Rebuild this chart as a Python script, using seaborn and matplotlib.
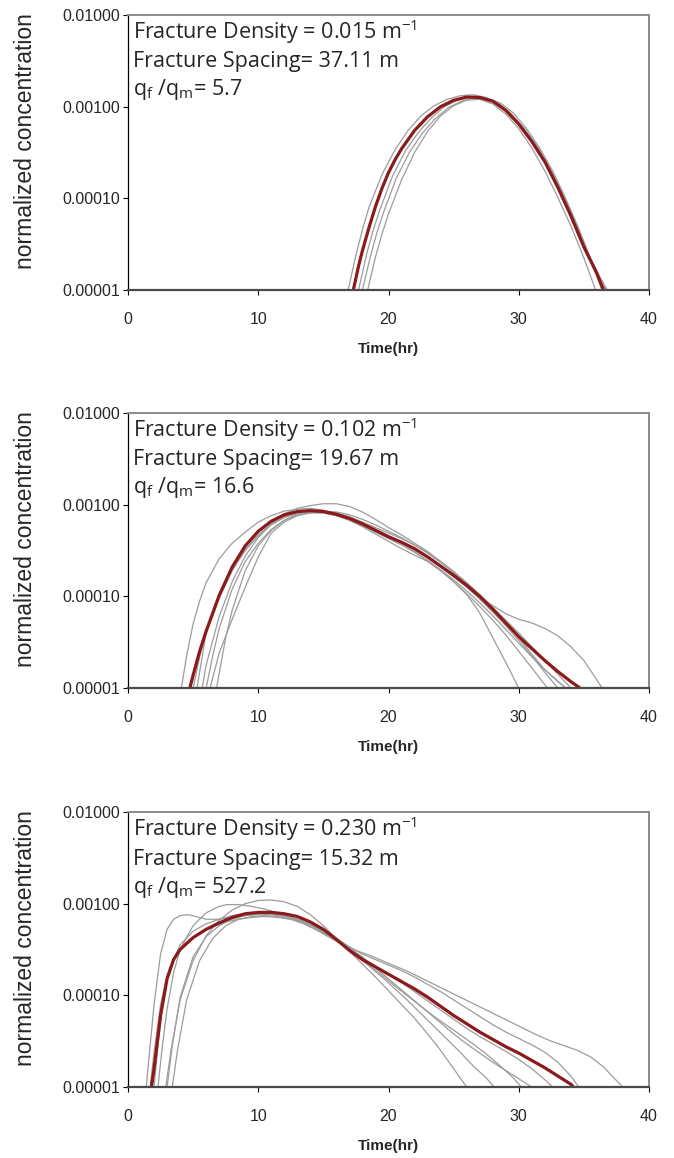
import numpy as np
import matplotlib
matplotlib.use("Agg")
import matplotlib.pyplot as plt
from matplotlib.ticker import FixedLocator, FuncFormatter, NullLocator
import seaborn as sns

sns.set_style("white")
plt.rcParams["font.family"] = ["Liberation Sans", "DejaVu Sans"]
plt.rcParams["mathtext.fontset"] = "custom"
plt.rcParams["mathtext.rm"] = "Open Sans"
plt.rcParams["mathtext.it"] = "Open Sans:italic"
plt.rcParams["mathtext.bf"] = "Open Sans:bold"

# ---------------------------------------------------------------------------
# Breakthrough curves: time (hr) and log10 of normalized concentration
# ---------------------------------------------------------------------------

# Panel 1 -- fracture density 0.015 m^-1
p1_mean_t = [17.3, 17.7, 18, 18.5, 19, 19.5, 20, 20.5, 21, 22, 23, 24, 25, 26, 27, 28, 29, 30, 31, 32,
             33, 34, 35, 36, 36.5]
p1_mean_logc = [-5.0, -4.74, -4.57, -4.32, -4.09, -3.89, -3.72, -3.58, -3.46, -3.26, -3.11, -3.00,
                -2.93, -2.895, -2.90, -2.94, -3.04, -3.19, -3.38, -3.60, -3.88, -4.19, -4.53, -4.82,
                -5.0]
p1_runs_t = [
    [16.9, 17.5, 18, 18.5, 19.5, 20.5, 21.5, 22.5, 23.5, 24.5, 25.5, 26.5, 27.5, 28.5, 29.5, 30.5,
     31.5, 32.5, 33.5, 34.5, 35.5, 36.2, 36.8],
    [17.7, 18.3, 18.8, 19.3, 20.3, 21.3, 22.3, 23.3, 24.3, 25.3, 26.3, 27.3, 28.3, 29.3, 30.3, 31.3,
     32.3, 33.3, 34.3, 35.3, 36.3, 36.7],
    [18.0, 18.6, 19.1, 19.6, 20.6, 21.6, 22.6, 23.6, 24.6, 25.6, 26.6, 27.6, 28.6, 29.6, 30.6, 31.6,
     32.6, 33.6, 34.6, 35.6, 36.4],
    [18.4, 19, 19.5, 20, 21, 22, 23, 24, 25, 26, 27, 28, 29, 30, 31, 32, 33, 34, 35, 35.9],
]
p1_runs_logc = [
    [-5.0, -4.62, -4.34, -4.10, -3.74, -3.47, -3.26, -3.10, -2.99, -2.92, -2.88, -2.87, -2.90, -2.97,
     -3.09, -3.25, -3.45, -3.70, -3.98, -4.30, -4.65, -4.85, -5.0],
    [-5.0, -4.62, -4.36, -4.14, -3.76, -3.48, -3.28, -3.12, -3.00, -2.93, -2.89, -2.90, -2.95, -3.06,
     -3.22, -3.42, -3.66, -3.95, -4.26, -4.60, -4.90, -5.0],
    [-5.0, -4.64, -4.38, -4.16, -3.78, -3.50, -3.29, -3.13, -3.01, -2.94, -2.90, -2.91, -2.96, -3.07,
     -3.24, -3.45, -3.70, -4.00, -4.33, -4.70, -5.0],
    [-5.0, -4.64, -4.39, -4.17, -3.80, -3.50, -3.27, -3.10, -2.99, -2.93, -2.92, -2.97, -3.08, -3.24,
     -3.45, -3.70, -3.99, -4.30, -4.65, -5.0],
]

# Panel 2 -- fracture density 0.102 m^-1
p2_mean_t = [4.75, 5, 5.5, 6, 7, 8, 9, 10, 11, 12, 13, 14, 15, 16, 17, 18, 19, 20, 21, 22, 23, 24, 25,
             26, 27, 28, 29, 30, 31, 32, 33, 34, 34.7]
p2_mean_logc = [-5.0, -4.86, -4.60, -4.38, -3.99, -3.68, -3.45, -3.29, -3.18, -3.11, -3.075, -3.065,
                -3.075, -3.105, -3.15, -3.21, -3.28, -3.35, -3.41, -3.48, -3.57, -3.67, -3.77, -3.88,
                -4.00, -4.14, -4.29, -4.44, -4.57, -4.70, -4.82, -4.93, -5.0]
p2_runs_t = [
    [4.1, 4.5, 5, 5.5, 6, 7, 8, 9, 10, 11, 12, 13, 14, 15, 16, 17, 18, 19, 20, 21, 22, 23, 24, 25, 26,
     27, 28, 29, 30, 31, 32, 33.0],
    [5.7, 6, 7, 8, 9, 10, 11, 12, 13, 14, 15, 16, 17, 18, 19, 20, 21, 22, 23, 24, 25, 26, 27, 28, 29,
     30, 31, 32, 33.6],
    [6.0, 6.5, 7, 8, 9, 10, 11, 12, 13, 14, 15, 16, 17, 18, 19, 20, 21, 22, 23, 24, 25, 26, 27, 28, 29,
     30.0],
    [6.3, 7, 8, 9, 10, 11, 12, 13, 14, 15, 16, 17, 18, 19, 20, 21, 22, 23, 24, 25, 26, 27, 28, 29, 30,
     31, 32.2],
    [5.3, 6, 7, 8, 9, 10, 11, 12, 13, 14, 15, 16, 17, 18, 19, 20, 21, 22, 23, 24, 25, 26, 27, 28, 29,
     30, 31, 32, 33, 34, 35, 35.8, 36.4],
    [5.0, 5.5, 6, 7, 8, 9, 10, 11, 12, 13, 14, 15, 16, 17, 18, 19, 20, 21, 22, 23, 24, 25, 26, 27, 28,
     29, 30, 31, 32, 33, 33.6],
    [6.8, 7.5, 8, 9, 10, 11, 12, 13, 14, 15, 16, 17, 18, 19, 20, 21, 22, 23, 24, 25, 26, 27, 28, 29,
     30, 31, 32, 33, 34.0],
]
p2_runs_logc = [
    [-5.0, -4.65, -4.30, -4.05, -3.85, -3.59, -3.42, -3.30, -3.19, -3.12, -3.07, -3.05, -3.04, -3.06,
     -3.10, -3.15, -3.21, -3.27, -3.34, -3.41, -3.49, -3.58, -3.68, -3.79, -3.90, -4.03, -4.17, -4.32,
     -4.48, -4.65, -4.83, -5.0],
    [-5.0, -4.75, -4.22, -3.84, -3.56, -3.36, -3.21, -3.10, -3.04, -3.01, -2.99, -2.99, -3.02, -3.08,
     -3.16, -3.25, -3.33, -3.42, -3.51, -3.62, -3.73, -3.85, -3.98, -4.12, -4.28, -4.45, -4.63, -4.80,
     -5.0],
    [-5.0, -4.65, -4.35, -3.92, -3.62, -3.42, -3.27, -3.17, -3.11, -3.09, -3.09, -3.12, -3.17, -3.24,
     -3.32, -3.40, -3.48, -3.55, -3.62, -3.72, -3.84, -3.98, -4.18, -4.45, -4.72, -5.0],
    [-5.0, -4.62, -4.25, -3.90, -3.57, -3.31, -3.19, -3.12, -3.09, -3.08, -3.10, -3.14, -3.20, -3.27,
     -3.34, -3.42, -3.51, -3.61, -3.72, -3.84, -3.97, -4.11, -4.26, -4.42, -4.60, -4.78, -5.0],
    [-5.0, -4.40, -3.98, -3.70, -3.49, -3.33, -3.21, -3.13, -3.09, -3.07, -3.07, -3.09, -3.13, -3.19,
     -3.25, -3.31, -3.37, -3.44, -3.52, -3.62, -3.73, -3.86, -4.00, -4.10, -4.19, -4.25, -4.29, -4.35,
     -4.43, -4.55, -4.70, -4.87, -5.0],
    [-5.0, -4.66, -4.40, -4.02, -3.72, -3.50, -3.34, -3.22, -3.14, -3.10, -3.08, -3.09, -3.12, -3.17,
     -3.23, -3.30, -3.37, -3.44, -3.52, -3.61, -3.71, -3.82, -3.94, -4.07, -4.21, -4.36, -4.51, -4.66,
     -4.80, -4.93, -5.0],
    [-5.0, -4.45, -4.15, -3.72, -3.45, -3.28, -3.17, -3.11, -3.08, -3.07, -3.08, -3.11, -3.16, -3.22,
     -3.29, -3.36, -3.44, -3.53, -3.63, -3.74, -3.86, -3.99, -4.12, -4.26, -4.40, -4.55, -4.70, -4.85,
     -5.0],
]

# Panel 3 -- fracture density 0.230 m^-1
p3_mean_t = [1.8, 2.0, 2.5, 3.0, 3.5, 4, 5, 6, 7, 8, 9, 10, 11, 12, 13, 14, 15, 16, 17, 18, 19, 20, 21,
             22, 23, 24, 25, 26, 27, 28, 29, 30, 31, 32, 33, 34, 34.2]
p3_mean_logc = [-5.0, -4.80, -4.22, -3.82, -3.61, -3.50, -3.37, -3.28, -3.21, -3.15, -3.11, -3.095,
                -3.095, -3.11, -3.14, -3.20, -3.28, -3.39, -3.51, -3.61, -3.69, -3.77, -3.85, -3.93,
                -4.02, -4.12, -4.22, -4.31, -4.40, -4.48, -4.56, -4.63, -4.71, -4.79, -4.88, -4.97, -5.0]
p3_runs_t = [
    [1.4, 1.7, 2, 2.5, 3, 3.5, 4, 4.6, 5.2, 6, 7, 8, 9, 10, 11, 12, 13, 14, 15, 16, 17, 18, 19, 20, 21,
     22, 23, 24, 25, 26, 27, 28, 29, 30, 31],
    [2.9, 3.3, 4, 5, 6, 7, 8, 9, 10, 11, 12, 13, 14, 15, 16, 17, 18, 19, 20, 21, 22, 23, 24, 25, 26],
    [2.3, 2.6, 3, 3.5, 4, 5, 6, 7, 7.6, 8.5, 9.5, 10.5, 11.5, 12.5, 13.5, 14.5, 15.5, 16.5, 17.5, 18.5,
     19.5, 20.5, 21.5, 22.5, 23.5, 24.5, 25.5, 26.5, 27.5, 28.1],
    [3.4, 3.8, 4.5, 5.5, 6.5, 7.5, 8.5, 9.5, 10.5, 11.5, 12.5, 13.5, 14.5, 15.5, 16.5, 17.5, 18.5, 19.5,
     20.5, 21.5, 22.5, 23.5, 24.5, 25.5, 26.5, 27.5, 28.5, 29.5, 30.5, 31.5, 32.5, 33.5, 34.5, 35.5,
     36.5, 37.3, 38.0],
    [2.0, 2.3, 2.7, 3.2, 4, 5, 6, 7, 8, 9, 10, 11, 12, 13, 14, 15, 16, 17, 18, 19, 20, 21, 22, 23, 24,
     25, 26, 27, 28, 29, 30, 31, 32, 33, 34, 34.6],
    [1.7, 2.0, 2.5, 3, 3.5, 4.5, 5.5, 6.5, 7.5, 8.5, 9.5, 10.5, 11.5, 12.5, 13.5, 14.5, 15.5, 16.5,
     17.5, 18.5, 19.5, 20.5, 21.5, 22.5, 23.5, 24.5, 25.5, 26.5, 27.5, 28.5, 29.5, 30.2],
    [3.0, 3.4, 4, 5, 6, 7, 8, 9, 10, 11, 12, 13, 14, 15, 16, 17, 18, 19, 20, 21, 22, 23, 24, 25, 26,
     27, 28, 29, 30, 31, 32, 32.6],
]
p3_runs_logc = [
    [-5.0, -4.55, -4.10, -3.55, -3.28, -3.17, -3.13, -3.12, -3.14, -3.17, -3.17, -3.15, -3.13, -3.12,
     -3.12, -3.14, -3.18, -3.24, -3.31, -3.39, -3.48, -3.58, -3.70, -3.82, -3.94, -4.06, -4.18, -4.30,
     -4.42, -4.53, -4.63, -4.73, -4.82, -4.91, -5.0],
    [-5.0, -4.60, -4.05, -3.62, -3.35, -3.18, -3.07, -3.00, -2.965, -2.96, -2.98, -3.03, -3.12, -3.24,
     -3.38, -3.52, -3.66, -3.80, -3.95, -4.10, -4.25, -4.42, -4.60, -4.80, -5.0],
    [-5.0, -4.60, -4.15, -3.75, -3.50, -3.24, -3.10, -3.03, -3.01, -3.01, -3.03, -3.06, -3.10, -3.15,
     -3.21, -3.28, -3.36, -3.45, -3.56, -3.68, -3.80, -3.93, -4.06, -4.20, -4.34, -4.48, -4.62, -4.77,
     -4.90, -5.0],
    [-5.0, -4.60, -4.05, -3.62, -3.38, -3.24, -3.17, -3.14, -3.13, -3.14, -3.17, -3.22, -3.29, -3.37,
     -3.45, -3.51, -3.56, -3.62, -3.68, -3.74, -3.81, -3.88, -3.95, -4.02, -4.09, -4.16, -4.23, -4.30,
     -4.37, -4.44, -4.50, -4.55, -4.60, -4.67, -4.78, -4.90, -5.0],
    [-5.0, -4.55, -4.05, -3.70, -3.45, -3.30, -3.22, -3.17, -3.13, -3.11, -3.10, -3.11, -3.13, -3.17,
     -3.23, -3.30, -3.38, -3.47, -3.55, -3.61, -3.67, -3.73, -3.80, -3.88, -3.96, -4.05, -4.14, -4.23,
     -4.32, -4.40, -4.47, -4.54, -4.62, -4.73, -4.88, -5.0],
    [-5.0, -4.62, -4.10, -3.78, -3.60, -3.42, -3.32, -3.25, -3.20, -3.17, -3.15, -3.14, -3.15, -3.17,
     -3.21, -3.27, -3.35, -3.45, -3.56, -3.67, -3.78, -3.90, -4.01, -4.12, -4.23, -4.33, -4.43, -4.53,
     -4.64, -4.76, -4.89, -5.0],
    [-5.0, -4.55, -4.02, -3.58, -3.36, -3.24, -3.17, -3.13, -3.11, -3.11, -3.13, -3.17, -3.23, -3.31,
     -3.40, -3.49, -3.59, -3.68, -3.77, -3.86, -3.96, -4.06, -4.16, -4.26, -4.36, -4.45, -4.53, -4.61,
     -4.70, -4.80, -4.92, -5.0],
]

# Annotation text for each panel
densities = ["0.015", "0.102", "0.230"]
spacings = ["37.11", "19.67", "15.32"]
flow_ratios = ["5.7", "16.6", "527.2"]

x_ticks = [0, 10, 20, 30, 40]
y_ticks = [1e-5, 1e-4, 1e-3, 1e-2]

MEAN_COLOR = "#8b1a1a"
RUN_COLOR = "#9c9c9c"

panels = [
    (p1_mean_t, p1_mean_logc, p1_runs_t, p1_runs_logc),
    (p2_mean_t, p2_mean_logc, p2_runs_t, p2_runs_logc),
    (p3_mean_t, p3_mean_logc, p3_runs_t, p3_runs_logc),
]

W, H = 674, 1158
fig = plt.figure(figsize=(W / 100, H / 100), dpi=100)

left_px, right_px = 128, 649
tops_px = [15, 413, 812]
height_px = 275

sans = ["Liberation Sans", "DejaVu Sans"]
note_font = ["Open Sans", "DejaVu Sans"]

for i, (mt, mlog, rts, rlogs) in enumerate(panels):
    top = tops_px[i]
    ax = fig.add_axes([left_px / W, 1 - (top + height_px) / H,
                       (right_px - left_px) / W, height_px / H])

    for rt, rl in zip(rts, rlogs):
        sns.lineplot(x=rt, y=np.power(10.0, rl), ax=ax, color=RUN_COLOR,
                     linewidth=0.9, sort=False, estimator=None)
    sns.lineplot(x=mt, y=np.power(10.0, mlog), ax=ax, color=MEAN_COLOR,
                 linewidth=2.3, sort=False, estimator=None)

    ax.set_yscale("log")
    ax.set_xlim(0, 40)
    ax.set_ylim(1e-5, 1e-2)
    ax.yaxis.set_major_locator(FixedLocator(y_ticks))
    ax.yaxis.set_minor_locator(NullLocator())
    ax.yaxis.set_major_formatter(FuncFormatter(lambda v, _: f"{v:.5f}"))
    ax.xaxis.set_major_locator(FixedLocator(x_ticks))

    ax.tick_params(axis="y", which="major", direction="out", length=3.5, width=0.8,
                   color="black", pad=2, left=True)
    ax.tick_params(axis="x", which="major", direction="out", length=3.5, width=0.8,
                   color="black", pad=12, bottom=True)
    for lab in ax.get_xticklabels() + ax.get_yticklabels():
        lab.set_fontfamily(sans)
        lab.set_fontsize(11.5)

    ax.spines["left"].set_color("black")
    ax.spines["left"].set_linewidth(0.9)
    ax.spines["bottom"].set_color("#4a4a4a")
    ax.spines["bottom"].set_linewidth(1.6)
    for side in ("top", "right"):
        ax.spines[side].set_color("#8a8a8a")
        ax.spines[side].set_linewidth(1.4)
    for s in ax.spines.values():
        s.set_visible(True)

    ax.set_xlabel("Time(hr)", fontsize=11, fontweight="bold", family=sans, labelpad=11)
    ax.set_ylabel("normalized concentration", fontsize=16.5, family=sans)
    ax.yaxis.set_label_coords(-0.175, 0.54)

    ax.text(0.0105, 1 - 17 / height_px,
            f"Fracture Density = {densities[i]} m$^{{\\mathregular{{-1}}}}$",
            transform=ax.transAxes, ha="left", va="center", fontsize=15.5, family=note_font)
    ax.text(0.0105, 1 - 47 / height_px,
            f"Fracture Spacing= {spacings[i]} m",
            transform=ax.transAxes, ha="left", va="center", fontsize=15.5, family=note_font)
    ax.text(0.0105, 1 - 75 / height_px,
            f"q$_{{\\mathregular{{f}}}}$ /q$_{{\\mathregular{{m}}}}$= {flow_ratios[i]}",
            transform=ax.transAxes, ha="left", va="center", fontsize=15.5, family=note_font)

fig.savefig("out.png", dpi=100)
